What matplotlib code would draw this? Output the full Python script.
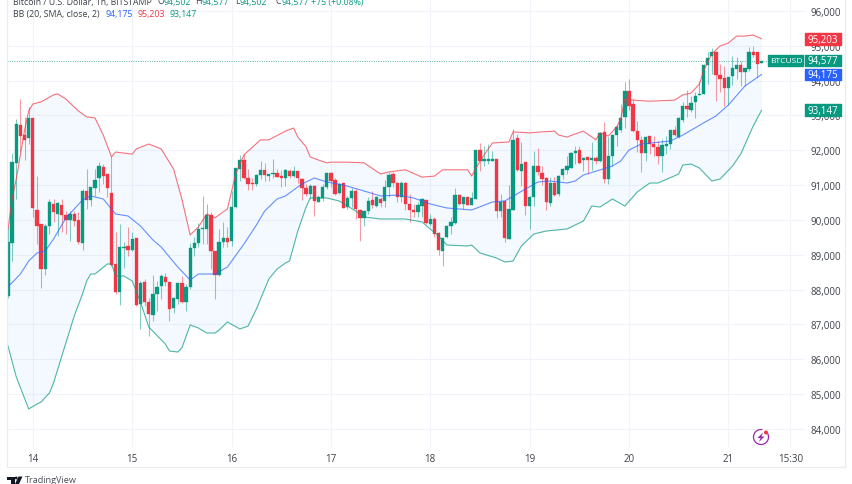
import numpy as np
import matplotlib
matplotlib.use('Agg')
import matplotlib.pyplot as plt
from matplotlib.lines import Line2D
from matplotlib.patches import Arc, Circle, Polygon, Rectangle

# hourly candles, 13 Jan evening to 21 Jan 15:00
opens = [
    87817, 89329, 91635, 92726, 92439, 92353, 92927, 90296, 89884, 88592,
    89817, 90468, 90181, 90429, 90142, 90009, 90172, 90000, 89339, 90832,
    90583, 90918, 91195, 91530, 91310, 90775, 88736, 87942, 89206, 89243,
    89138, 89483, 87588, 88210, 87636, 87272, 87875, 88114, 88372, 88229,
    87463, 87731, 88181, 87655, 88066, 89186, 89339, 89741, 89741, 90153,
    89119, 88420, 89377, 89473, 89387, 90363, 91463, 91731, 91196, 91061,
    91033, 91301, 91444, 91272, 91310, 91349, 91253, 91196, 91415, 91253,
    91415, 91176, 90918, 90746, 90985, 90507, 90622, 90937, 91339, 91148,
    90775, 91052, 90363, 90622, 90842, 90296, 90047, 90248, 90583, 90411,
    90602, 90555, 90937, 91320, 91062, 90650, 91062, 90459, 90287, 90220,
    90411, 90583, 89885, 90028, 89617, 89119, 89521, 89837, 89913, 90727,
    90449, 90650, 90440, 90602, 92019, 91684, 91693, 91693, 91751, 90248,
    90554, 89454, 90296, 92344, 91416, 91655, 90392, 90669, 91559, 91339,
    91205, 90478, 91061, 90736, 91291, 91444, 91501, 91922, 92009, 91712,
    91798, 91712, 91770, 91693, 92516, 91176, 91846, 92449, 92592, 92947,
    93712, 93329, 92545, 92296, 91923, 92401, 92181, 92095, 91846, 92134,
    92181, 92583, 92373, 92880, 93263, 93157, 93378, 93598, 93617, 94459,
    94698, 94832, 94172, 94067, 93780, 94125, 94335, 94450, 94239, 94335,
    94832, 94832, 94502,
]
closes = [
    89367, 91655, 92755, 92420, 92305, 92918, 90334, 89817, 88592, 89817,
    90506, 90219, 90477, 90142, 90000, 90172, 89980, 89358, 90841, 90573,
    90937, 91138, 91540, 91252, 90908, 88717, 87942, 89234, 89234, 89138,
    89454, 87559, 88181, 87655, 87301, 87875, 88086, 88401, 88229, 87444,
    87751, 88181, 87636, 88086, 89196, 89339, 89741, 89760, 90153, 89100,
    88420, 89378, 89473, 89377, 90363, 91483, 91731, 91196, 91042, 91033,
    91301, 91435, 91291, 91310, 91349, 91243, 91196, 91425, 91253, 91415,
    91196, 90908, 90746, 90985, 90554, 90650, 90937, 91349, 91129, 90746,
    91033, 90344, 90622, 90823, 90315, 90047, 90268, 90555, 90430, 90650,
    90488, 90937, 91291, 91062, 90650, 91062, 90459, 90287, 90239, 90430,
    90602, 89914, 90028, 89597, 89138, 89483, 89837, 89932, 90727, 90459,
    90650, 90440, 90621, 92019, 91703, 91751, 91751, 91751, 90248, 90507,
    89483, 90315, 92306, 91444, 91607, 90411, 90669, 91559, 91367, 91176,
    90506, 91061, 90717, 91272, 91463, 91540, 91922, 91990, 91635, 91779,
    91731, 91770, 91693, 92497, 91176, 91846, 92439, 92660, 92918, 93712,
    93282, 92564, 92296, 91923, 92392, 92181, 92086, 91846, 92162, 92181,
    92583, 92440, 92918, 93282, 93186, 93358, 93550, 93617, 94459, 94650,
    94813, 94172, 94048, 93780, 94115, 94354, 94450, 94239, 94354, 94813,
    94737, 94478, 94577,
]
highs = [
    89827, 91923, 92899, 93473, 92947, 93234, 92927, 91253, 89884, 89884,
    90602, 90602, 90506, 90602, 90267, 90267, 90267, 90219, 90889, 91463,
    90937, 91463, 91674, 91607, 91310, 91846, 89645, 89885, 89378, 89789,
    89665, 89483, 88258, 88306, 87751, 88420, 88258, 88449, 88468, 88229,
    87780, 88181, 88382, 88162, 89339, 89502, 89914, 90679, 90459, 90220,
    89119, 89741, 89952, 89789, 90842, 91483, 91865, 91894, 91463, 91196,
    91320, 91703, 91626, 91320, 91751, 91463, 91444, 91463, 91463, 91559,
    91415, 91196, 91033, 91033, 91004, 90717, 91033, 91387, 91368, 91196,
    91052, 91052, 90679, 90909, 90890, 90315, 90287, 90670, 90842, 90698,
    90650, 91158, 91387, 91387, 91081, 91129, 91081, 90746, 90459, 90507,
    90621, 90583, 90172, 90076, 89664, 89483, 89856, 90076, 90908, 90746,
    90669, 90669, 90793, 92019, 92210, 92114, 92181, 91990, 91751, 90746,
    90554, 91014, 92612, 92468, 92229, 91674, 90679, 91990, 92056, 91540,
    91224, 91224, 91224, 91291, 91492, 91846, 91942, 92133, 92133, 91798,
    91798, 92229, 91846, 92516, 92803, 92372, 92468, 92727, 93329, 93952,
    94047, 93473, 92851, 92420, 92421, 92421, 92421, 92277, 92325, 92421,
    92583, 92708, 92947, 93397, 93732, 93569, 93665, 94000, 94478, 94832,
    94928, 94861, 94478, 94411, 94115, 94698, 94670, 94555, 94354, 94957,
    95004, 94832, 94577,
]
lows = [
    87760, 88831, 90602, 91942, 91731, 92181, 90075, 89310, 88037, 88420,
    89597, 89932, 89549, 89645, 89597, 89406, 89836, 89310, 89147, 90314,
    90411, 90698, 90793, 91032, 90650, 88690, 87875, 87559, 88612, 88957,
    89119, 87540, 86870, 87540, 86660, 87110, 87397, 87731, 88114, 87090,
    87330, 87588, 87617, 87397, 88019, 88976, 89215, 89301, 89310, 88593,
    87732, 88400, 89215, 89215, 89262, 90334, 91109, 91176, 90870, 90870,
    90985, 91176, 91128, 91109, 91205, 91224, 90937, 90985, 91196, 91224,
    91061, 90574, 90679, 90602, 90105, 90507, 90555, 90890, 90937, 90727,
    90746, 90334, 90315, 90363, 90028, 89406, 89818, 90172, 90334, 90363,
    90382, 90363, 90669, 90937, 90526, 90507, 90287, 89933, 90076, 90095,
    90076, 89885, 89818, 89502, 88994, 88688, 89483, 89597, 89884, 90430,
    90315, 90430, 90430, 90602, 91416, 91559, 91607, 91693, 90057, 90076,
    89377, 89454, 90296, 91416, 90985, 90143, 89741, 90411, 91291, 91004,
    90296, 90392, 90698, 90698, 91176, 91310, 91482, 91607, 91607, 91415,
    91320, 91444, 91607, 91674, 91052, 91033, 91559, 92133, 92516, 92631,
    93167, 92535, 91942, 91387, 91684, 91894, 91846, 91607, 91387, 91894,
    92038, 92401, 92354, 92803, 92947, 93110, 92918, 93588, 93607, 93904,
    94191, 93425, 93665, 93263, 93301, 93875, 94048, 93837, 93837, 94268,
    94689, 94095, 94502,
]

# Bollinger bands, read at the bends of each line
upper_idx = [0, 1, 2, 3, 4, 5, 6, 8, 11, 12, 14, 17, 19, 21, 23, 25, 26, 30, 31, 34,
             37, 40, 42, 44, 46, 48, 50, 53, 55, 57, 61, 63, 67, 69, 70, 72, 73, 75, 77, 78,
             82, 86, 90, 92, 96, 100, 103, 105, 111, 112, 114, 117, 121, 122, 126, 129, 132, 133, 135, 137,
             139, 142, 143, 145, 147, 148, 149, 151, 155, 161, 163, 165, 167, 168, 170, 172, 174, 176, 178, 180, 182]
upper = [89740, 90600, 91180, 91870, 92580, 93130, 93330, 93390, 93590, 93620, 93470, 93130, 92960, 92930, 92440, 91810, 91950, 91890, 92040, 92180,
         92040, 91460, 90600, 89570, 89800, 90170, 90060, 90320, 91320, 91870, 92300, 92300, 92550, 92640, 92380, 92100, 91810, 91720, 91640, 91660,
         91660, 91640, 91320, 91380, 91440, 91230, 91260, 91440, 91440, 91260, 91690, 92210, 92240, 92530, 92500, 92530, 92550, 92440, 92380, 92470,
         92550, 92300, 92500, 92410, 92670, 92900, 93470, 93440, 93410, 93440, 93590, 93645, 93900, 94277, 94765, 94995, 95080, 95280, 95280, 95310, 95203]

basis_idx = [0, 3, 5, 7, 9, 11, 14, 18, 20, 23, 26, 29, 32, 35, 37, 41, 44, 46, 50, 53,
             57, 60, 62, 65, 67, 71, 74, 77, 81, 86, 90, 94, 98, 102, 106, 112, 117, 120, 125, 128,
             131, 135, 137, 139, 143, 146, 148, 150, 153, 160, 163, 168, 171, 174, 178, 182]
basis = [88080, 88449, 88822, 89052, 89109, 89454, 90057, 90573, 90688, 90602, 90171, 90114, 89827, 89425, 89224, 88650, 88276, 88449, 88449, 88650,
         89310, 89856, 90257, 90602, 90688, 91033, 91205, 91090, 91004, 90832, 90688, 90717, 90631, 90458, 90344, 90286, 90516, 90545, 90889, 91090,
         91119, 91061, 91119, 91291, 91435, 91549, 91693, 92009, 92181, 92267, 92439, 92784, 92985, 93301, 93846, 94175]

lower_idx = [0, 2, 5, 7, 8, 10, 11, 13, 16, 18, 19, 20, 21, 24, 25, 26, 28, 30, 32, 34,
             38, 39, 41, 42, 44, 46, 48, 50, 51, 53, 56, 58, 60, 63, 65, 67, 68, 70, 72, 73,
             77, 80, 84, 86, 90, 96, 100, 104, 106, 111, 112, 114, 118, 120, 122, 124, 127, 130, 135, 139,
             141, 143, 146, 149, 152, 155, 157, 162, 163, 165, 167, 170, 172, 175, 177, 180, 182]
lower = [86382, 85492, 84573, 84716, 84774, 85032, 85319, 86095, 87243, 87875, 88248, 88449, 88449, 88736, 88736, 88391, 88391, 88248, 87645, 86927,
         86439, 86238, 86209, 86324, 86985, 86898, 86755, 86755, 86841, 87071, 86870, 86956, 87444, 88305, 88592, 88765, 88822, 89683, 90372, 90631,
         90631, 90545, 90257, 90085, 90028, 90028, 89942, 89540, 89281, 89253, 89281, 89052, 88908, 88793, 88822, 89253, 89597, 89683, 89741, 89970,
         90401, 90372, 90602, 90401, 90803, 91061, 91061, 91320, 91578, 91607, 91492, 91119, 91176, 91549, 91894, 92698, 93147]

price_ticks = [84000, 85000, 86000, 87000, 88000, 89000, 90000, 91000, 92000, 93000, 94000, 95000, 96000]
time_ticks = [6, 30, 54, 78, 102, 126, 150, 174, 189]
time_labels = ['14', '15', '16', '17', '18', '19', '20', '21', '15:30']

UP = '#089981'
DOWN = '#F23645'
BLUE = '#2962FF'
GRID = '#f0f3fa'
TEXT = '#3c404a'
FONT = 'Open Sans'

plt.rcParams['font.family'] = [FONT, 'DejaVu Sans']

W, H = 852, 485
fig = plt.figure(figsize=(W / 100, H / 100), dpi=100, facecolor='white')
ax = fig.add_axes([7 / W, 1 - 448 / H, (805 - 7) / W, 448 / H])

# pane scale: candle i sits at 8 + 4.14 * i px, 1000 USD is 34.83 px
ax.set_xlim((7 - 8) / 4.14, (805 - 8) / 4.14)
ax.set_ylim(96344 - 28.71 * 448, 96344)

for side in ax.spines.values():
    side.set_visible(False)
ax.yaxis.tick_right()
ax.set_yticks(price_ticks)
ax.set_yticklabels([f'{p:,}' for p in price_ticks])
ax.set_xticks(time_ticks)
ax.set_xticklabels(time_labels)
ax.tick_params(axis='y', length=0, pad=4.2, labelsize=7, labelcolor=TEXT)
ax.tick_params(axis='x', length=0, pad=4.5, labelsize=7, labelcolor=TEXT)
ax.grid(True, color=GRID, lw=0.8, zorder=0)
ax.set_axisbelow(True)

x = np.arange(len(opens))
opens_a = np.array(opens)
closes_a = np.array(closes)
rising = closes_a >= opens_a

# band fill sits under everything else
band_x = np.arange(0, 183)
ax.fill_between(np.r_[ax.get_xlim()[0], band_x],
                np.r_[upper[0], np.interp(band_x, upper_idx, upper)],
                np.r_[lower[0], np.interp(band_x, lower_idx, lower)],
                color='#2196F3', alpha=0.05, lw=0, zorder=1)

wick_colors = [UP if r else DOWN for r in rising]
wicks = ax.vlines(x, lows, highs, colors=wick_colors, lw=0.75, alpha=0.5, zorder=2)
ax.bar(x, np.abs(closes_a - opens_a), bottom=np.minimum(opens_a, closes_a), width=0.8,
       color=wick_colors, edgecolor=wick_colors, lw=0.25, zorder=3)

ax.plot(upper_idx, upper, color=DOWN, lw=0.8, alpha=0.7, zorder=4)
ax.plot(basis_idx, basis, color=BLUE, lw=0.8, alpha=0.7, zorder=4)
ax.plot(lower_idx, lower, color=UP, lw=0.8, alpha=0.7, zorder=4)

# last price dotted line stops at the symbol tag
ax.hlines(closes[-1], ax.get_xlim()[0], (768 - 8) / 4.14, colors=UP, lw=0.7, alpha=0.7,
          linestyles=(0, (1, 1.4)), zorder=2)

# price tags on the right, x in axes fraction so they follow the pane
trans = ax.get_yaxis_transform()
px = 1 / (805 - 7)


def price_tag(value, color, text=None, left=805.5, width=35.5, size=7):
    x0 = (left - 7) * px
    ax.add_patch(Rectangle((x0, value - 170), width * px, 340, transform=trans, facecolor=color,
                           edgecolor=color, lw=1, joinstyle='round', clip_on=False, zorder=6))
    ax.text(x0 + width * px / 2, value - 10, text or f'{value:,}', transform=trans, color='white',
            fontsize=size, ha='center', va='center', clip_on=False, zorder=7)


price_tag(95203, DOWN)
price_tag(closes[-1], UP)
price_tag(closes[-1], UP, text='BTCUSD', left=768.5, width=35, size=6.1)
price_tag(94175, BLUE)
price_tag(93147, UP)

# everything outside the pane, in plain pixels
deco = fig.add_axes([0, 0, 1, 1], facecolor='none')
deco.set_xlim(0, W)
deco.set_ylim(H, 0)
deco.axis('off')

deco.add_line(Line2D([7, 7], [0, 468], color='#e9ecf3', lw=0.9))
deco.add_line(Line2D([7, 845], [468, 468], color='#e9ecf3', lw=0.9))
deco.add_line(Line2D([845, 845], [0, 468], color='#e9ecf3', lw=0.9))

header = [(13, 'Bitcoin / U.S. Dollar, 1h, BITSTAMP', TEXT), (157, 'O', TEXT), (163, '94,502', UP),
          (195, 'H', TEXT), (201, '94,577', UP), (235, 'L', TEXT), (240, '94,502', UP),
          (275, 'C', TEXT), (281, '94,577', UP), (311, '+75 (+0.08%)', UP)]
for left, label, color in header:
    deco.text(left, 2, label, color=color, fontsize=6.3, ha='left', va='center')

legend = [(13, 'BB (20, SMA, close, 2)', TEXT), (106, '94,175', BLUE), (137, '95,203', DOWN), (169, '93,147', UP)]
for left, label, color in legend:
    deco.text(left, 15, label, color=color, fontsize=6.3, ha='left', va='center')

# TradingView mark
mark = '#131722'
deco.add_patch(Polygon([(7, 477.5), (14.5, 477.5), (14.5, 485), (10.5, 485), (10.5, 480.5), (7, 480.5)],
                       facecolor=mark, lw=0))
deco.add_patch(Circle((16.2, 479), 1.4, facecolor=mark, lw=0))
deco.add_patch(Polygon([(18.5, 477.5), (22.5, 477.5), (19, 485), (15, 485)], facecolor=mark, lw=0))
deco.text(25, 481, 'TradingView', color='#4a4e59', fontsize=6.6, ha='left', va='center')

# lightning badge
purple = '#9c27b0'
deco.add_patch(Arc((761, 438), 15, 15, theta1=-30, theta2=280, color=purple, lw=0.9))
deco.add_patch(Polygon([(763, 433.5), (757.5, 439), (760.5, 439), (759, 443), (764.5, 437.5), (761.5, 437.5)],
                       facecolor=purple, lw=0))
deco.add_patch(Circle((766, 433.5), 2, facecolor='#f23645', lw=0))

fig.savefig('out.png', dpi=100)
